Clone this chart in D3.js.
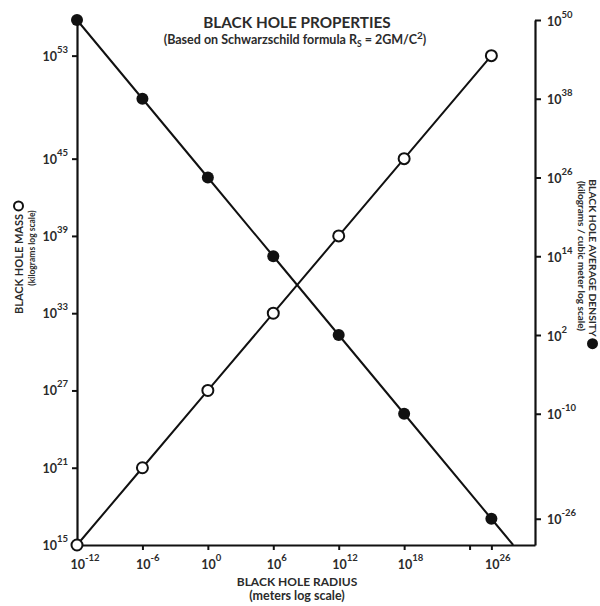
<!DOCTYPE html>
<html>
<head>
<meta charset="utf-8">
<script src="https://cdn.jsdelivr.net/npm/d3@7"></script>
<style>
  html, body { margin: 0; padding: 0; background: #fff; }
  svg { display: block; }
  text { font-family: Lato, "Open Sans", sans-serif; font-weight: 700; fill: #2b2b2b; }
</style>
</head>
<body>
<svg id="chart" width="600" height="606"></svg>
<script>
// ---------- data (exponents of 10) ----------
const radiusExp  = [-12, -6, 0, 6, 12, 18, 26];      // meters
const massExp    = [15, 21, 27, 33, 39, 45, 53];      // kilograms
const densityExp = [50, 38, 26, 14, 2, -10, -26];     // kg / m^3

const xTickExp     = [-12, -6, 0, 6, 12, 18, 24, 26];
const xTickLabels  = ["-12", "-6", "0", "6", "12", "18", "", "26"];
const leftTickExp  = [15, 21, 27, 33, 39, 45, 53];
const rightTickExp = [50, 38, 26, 14, 2, -10, -26];

const titleText    = "BLACK HOLE PROPERTIES";
const xTitle       = "BLACK HOLE RADIUS";
const xSubtitle    = "(meters log scale)";
const leftTitle    = "BLACK HOLE MASS";
const leftSubtitle = "(kilograms log scale)";
const rightTitle   = "BLACK HOLE AVERAGE DENSITY";
const rightSubtitle= "(kilograms / cubic meter log scale)";

// ---------- layout ----------
const svg = d3.select("#chart");
const X0 = 77, X1 = 535, Y0 = 545;

const x = d3.scaleLog().domain([1e-12, 1e30]).range([X0, X1]);
const yM = d3.scaleLog().domain([1e15, 1e56]).range([Y0, 17]);
const yD = d3.scaleLog().domain([1e-30, 1e50]).range([Y0, 20]);

const pts = radiusExp.map((r, i) => ({
  r: Math.pow(10, r), m: Math.pow(10, massExp[i]), d: Math.pow(10, densityExp[i])
}));

function expLabel(sel, expFn, opts) {
  sel.each(function(d, i) {
    const t = d3.select(this);
    const e = expFn(d, i);
    t.text(null);
    if (e === "") return;
    t.append("tspan").attr("font-size", opts.base).text("10");
    t.append("tspan").attr("font-size", opts.sup).attr("dy", -opts.raise).text(e);
  });
}

// ---------- axes ----------
const gx = svg.append("g").attr("transform", `translate(0,${Y0})`)
  .call(d3.axisBottom(x).tickValues(xTickExp.map(e => Math.pow(10, e)))
        .tickSize(5).tickSizeOuter(0));
gx.selectAll("text")
  .attr("y", 24).attr("dy", 0).attr("x", -7).attr("text-anchor", "start")
  .call(expLabel, (d, i) => xTickLabels[i], {base: 12.5, sup: 9.5, raise: 8});

const gl = svg.append("g").attr("transform", `translate(${X0},0)`)
  .call(d3.axisLeft(yM).tickValues(leftTickExp.map(e => Math.pow(10, e)))
        .tickSize(5).tickSizeOuter(0));
gl.selectAll("text")
  .attr("x", -9).attr("dy", "0.45em").attr("text-anchor", "end")
  .call(expLabel, (d, i) => String(leftTickExp[i]), {base: 12.5, sup: 9.5, raise: 8});

const gr = svg.append("g").attr("transform", `translate(${X1},0)`)
  .call(d3.axisRight(yD).tickValues(rightTickExp.map(e => Math.pow(10, e)))
        .tickSize(6).tickSizeOuter(0));
gr.selectAll("text")
  .attr("x", 12).attr("dy", "0.5em").attr("text-anchor", "start")
  .call(expLabel, (d, i) => String(rightTickExp[i]), {base: 12.5, sup: 9.5, raise: 8});

svg.selectAll(".domain").attr("stroke", "#111").attr("stroke-width", 2.2);
svg.selectAll(".tick line").attr("stroke", "#111").attr("stroke-width", 2);
svg.selectAll(".tick text").attr("font-family", "Lato, sans-serif").attr("font-weight", 700).attr("fill", "#2b2b2b");

// ---------- lines ----------
const massLine = d3.line().x(d => x(d.r)).y(d => yM(d.m));
svg.append("path").datum(pts).attr("d", massLine)
  .attr("fill", "none").attr("stroke", "#111").attr("stroke-width", 2);

// density line: extrapolated in log space from the last two points down to the axis floor
const a = pts[pts.length - 2], b = pts[pts.length - 1];
const slope = (Math.log10(b.d) - Math.log10(a.d)) / (Math.log10(b.r) - Math.log10(a.r));
const floorD = yD.domain()[0];
const extR = Math.pow(10, Math.log10(b.r) + (Math.log10(floorD) - Math.log10(b.d)) / slope);
const densPts = pts.concat([{r: extR, d: floorD}]);
const densLine = d3.line().x(d => x(d.r)).y(d => yD(d.d));
svg.append("path").datum(densPts).attr("d", densLine)
  .attr("fill", "none").attr("stroke", "#111").attr("stroke-width", 2);

// ---------- markers ----------
svg.append("g").selectAll("circle").data(pts).join("circle")
  .attr("cx", d => x(d.r)).attr("cy", d => yD(d.d)).attr("r", 6)
  .attr("fill", "#111");
svg.append("g").selectAll("circle").data(pts).join("circle")
  .attr("cx", d => x(d.r)).attr("cy", d => yM(d.m)).attr("r", 5.5)
  .attr("fill", "#fff").attr("stroke", "#111").attr("stroke-width", 2);

// ---------- titles ----------
svg.append("text").attr("x", 297).attr("y", 28).attr("text-anchor", "middle")
  .attr("font-size", 15.3).text(titleText);
const sub = svg.append("text").attr("x", 295).attr("y", 44).attr("text-anchor", "middle")
  .attr("font-size", 12.5);
sub.append("tspan").text("(Based on Schwarzschild formula R");
sub.append("tspan").attr("font-size", 8.5).attr("dy", 3).text("S");
sub.append("tspan").attr("dy", -3).text(" = 2GM/C");
sub.append("tspan").attr("font-size", 10).attr("dy", -5).text("2");
sub.append("tspan").attr("dy", 5).text(")");

svg.append("text").attr("x", 297).attr("y", 586).attr("text-anchor", "middle")
  .attr("font-size", 12).text(xTitle);
svg.append("text").attr("x", 297).attr("y", 600).attr("text-anchor", "middle")
  .attr("font-size", 12.5).text(xSubtitle);

// left title (rotated) with open-circle symbol
const lt = svg.append("g").attr("transform", "translate(23,264) rotate(-90)");
const ltText = lt.append("text").attr("x", 0).attr("text-anchor", "middle")
  .attr("font-size", 11).text(leftTitle);
const ltw = ltText.node().getComputedTextLength();
lt.append("circle").attr("cx", ltw / 2 + 8).attr("cy", -4.5).attr("r", 4.5)
  .attr("fill", "#fff").attr("stroke", "#111").attr("stroke-width", 2);
lt.append("text").attr("x", 16).attr("y", 12).attr("text-anchor", "middle")
  .attr("font-size", 8.5).text(leftSubtitle);

// right title (rotated) with filled-circle symbol
const rt = svg.append("g").attr("transform", "translate(589,258) rotate(90)");
const rtText = rt.append("text").attr("x", 0).attr("text-anchor", "middle")
  .attr("font-size", 10.3).text(rightTitle);
const rtw = rtText.node().getComputedTextLength();
rt.append("circle").attr("cx", rtw / 2 + 7).attr("cy", -3.5).attr("r", 5.5)
  .attr("fill", "#111");
rt.append("text").attr("x", -2).attr("y", 11).attr("text-anchor", "middle")
  .attr("font-size", 10).text(rightSubtitle);
</script>
</body>
</html>
